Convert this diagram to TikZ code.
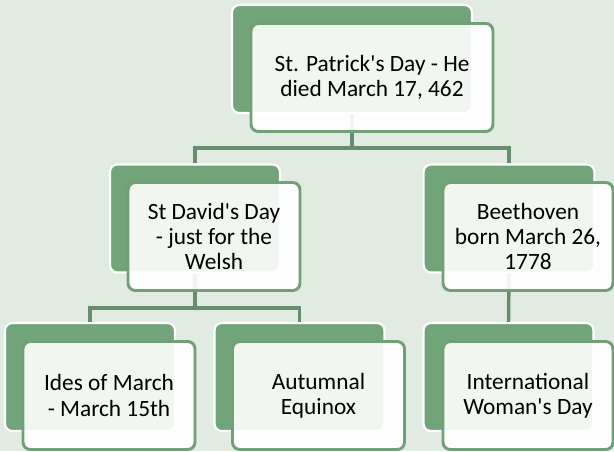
\documentclass[tikz,border=0pt]{standalone}
\usepackage{fontspec}
\setmainfont{Carlito}[Ligatures=TeXOff]
\definecolor{bgc}{RGB}{226,235,226}
\definecolor{gfill}{RGB}{114,164,121}
\definecolor{gline}{RGB}{100,143,106}
\definecolor{gborder}{RGB}{112,160,118}
\tikzset{
  backbox/.style={draw=white, line width=1.6pt, fill=gfill, rounded corners=5.5pt,
    minimum height=81pt, inner sep=0pt},
  frontbox/.style={draw=gborder, line width=2.2pt, fill=white, fill opacity=0.9,
    text opacity=1, rounded corners=5.5pt, minimum height=81pt, inner sep=0pt,
    align=center, font=\fontsize{17.5pt}{18.8pt}\selectfont},
  conn/.style={draw=gline, line width=2.6pt},
}
\begin{document}
\begin{tikzpicture}[x=0.75pt,y=-0.75pt]
\fill[bgc] (0,0) rectangle (614,451);
\useasboundingbox (0,0) rectangle (614,451);
% coordinates for junctions
\coordinate (j1) at (352,148);
\coordinate (j2) at (195,308);
% back boxes (named, used as connector ends)
\node[backbox, minimum width=180pt] (tb) at (352,59) {};
\node[backbox, minimum width=127.5pt] (mlb) at (195,218.5) {};
\node[backbox, minimum width=128pt] (mrb) at (509,218.5) {};
\node[backbox, minimum width=127.5pt] (b1b) at (90,377) {};
\node[backbox, minimum width=127.5pt] (b2b) at (299.5,377) {};
\node[backbox, minimum width=127.5pt] (b3b) at (508.5,377) {};
% connectors
\draw[conn] (tb.south) -- (tb.south |- j1) -| (mlb.north);
\draw[conn] (tb.south |- j1) -| (mrb.north);
\draw[conn] (mlb.south) -- (mlb.south |- j2) -| (b1b.north);
\draw[conn] (mlb.south |- j2) -| (b2b.north);
\draw[conn] (mrb.south) -- (b3b.north);
% front boxes
\node[frontbox, minimum width=181.5pt] (tf) at (372,77.5) {St. Patrick's Day - He\\died March 17, 462};
\node[frontbox, minimum width=129pt] (mlf) at (214,236.5) {St David's Day\\- just for the\\Welsh};
\node[frontbox, minimum width=127.5pt] (mrf) at (528,236.5) {Beethoven\\born March 26,\\1778};
\node[frontbox, minimum width=129pt] (b1f) at (109,395.5) {Ides of March\\- March 15th};
\node[frontbox, minimum width=129pt] (b2f) at (318.5,395.5) {Autumnal\\Equinox};
\node[frontbox, minimum width=127.5pt] (b3f) at (528,395.5) {International\\Woman's Day};
\end{tikzpicture}
\end{document}
